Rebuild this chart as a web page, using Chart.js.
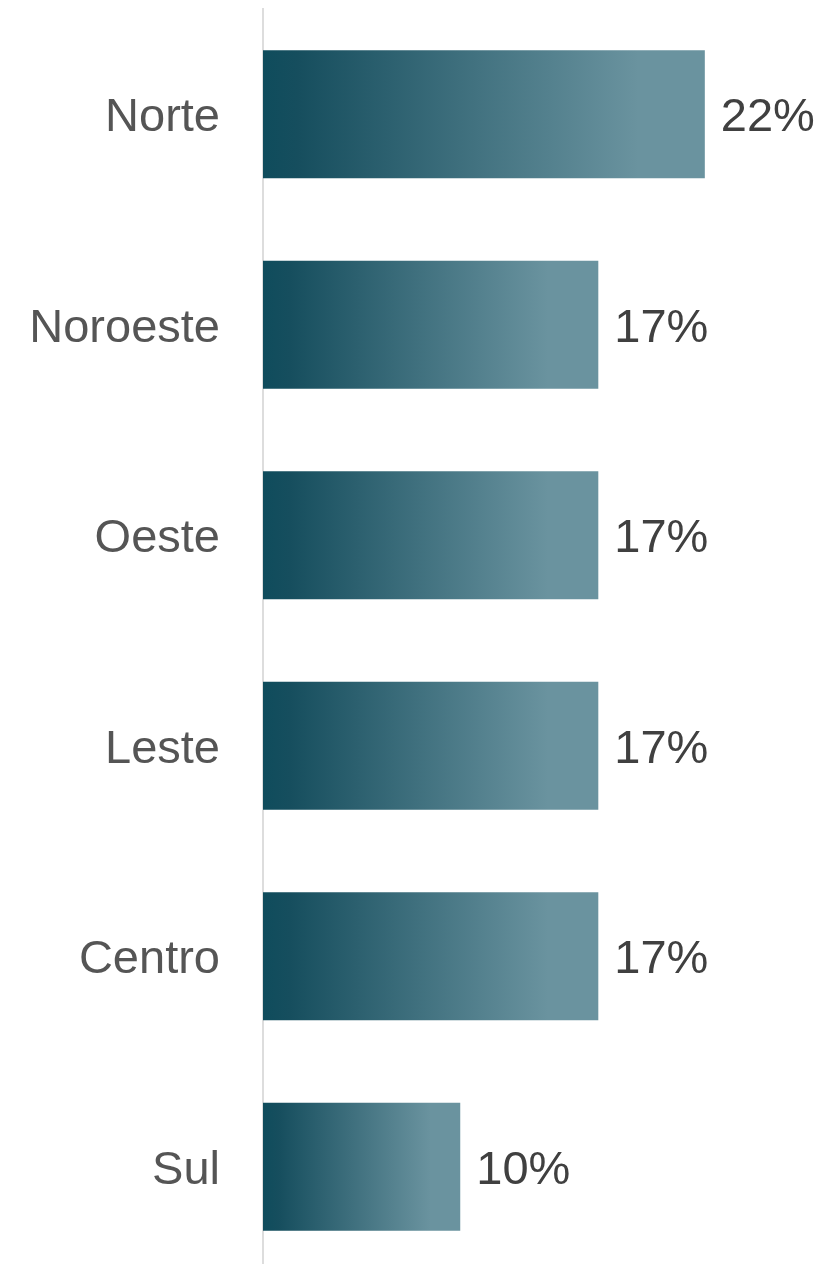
<!DOCTYPE html>
<html>
<head>
<meta charset="utf-8">
<script src="https://cdn.jsdelivr.net/npm/chart.js@4.4.1/dist/chart.umd.min.js"></script>
<style>
  html, body { margin: 0; padding: 0; background: #fff; overflow: hidden; }
  #wrap { width: 835px; height: 1272px; position: relative; }
</style>
</head>
<body>
<div id="wrap"><canvas id="bars"></canvas></div>
<script>
const regions = ['Norte', 'Noroeste', 'Oeste', 'Leste', 'Centro', 'Sul'];
const shares = [22.4, 17, 17, 17, 17, 10];
const shareLabels = ['22%', '17%', '17%', '17%', '17%', '10%'];

const FONT = "'Liberation Sans', Arial, sans-serif";

function barGradient(context) {
  const chart = context.chart;
  const area = chart.chartArea;
  if (!area || context.parsed == null) return '#3d6b78';
  const left = chart.scales.x.getPixelForValue(0);
  const right = chart.scales.x.getPixelForValue(context.parsed.x);
  const g = chart.ctx.createLinearGradient(left, 0, right, 0);
  g.addColorStop(0, '#0f4c5c');
  g.addColorStop(0.08, '#164e5e');
  g.addColorStop(0.85, '#6a939f');
  g.addColorStop(1, '#6a939f');
  return g;
}

// value labels right of each bar
const valueLabels = {
  id: 'valueLabels',
  afterDatasetsDraw(chart) {
    const ctx = chart.ctx;
    const meta = chart.getDatasetMeta(0);
    ctx.save();
    ctx.font = `47px ${FONT}`;
    ctx.fillStyle = '#404040';
    ctx.textAlign = 'left';
    ctx.textBaseline = 'middle';
    meta.data.forEach((bar, i) => {
      ctx.fillText(shareLabels[i], bar.x + 16, bar.y + 4);
    });
    ctx.restore();
  }
};

new Chart(document.getElementById('bars'), {
  type: 'bar',
  data: {
    labels: regions,
    datasets: [{
      data: shares,
      backgroundColor: barGradient,
      borderWidth: 0,
      barPercentage: 0.608,
      categoryPercentage: 1
    }]
  },
  plugins: [valueLabels],
  options: {
    indexAxis: 'y',
    responsive: true,
    maintainAspectRatio: false,
    animation: false,
    layout: { padding: { top: 9, right: 0, bottom: 0, left: 0 } },
    plugins: {
      legend: { display: false },
      tooltip: { enabled: false }
    },
    scales: {
      x: {
        min: 0,
        max: 29,
        display: false,
        grid: { display: false }
      },
      y: {
        afterFit(scale) {
          scale.width = 263;
          scale.paddingTop = 0;
          scale.paddingBottom = 0;
        },
        grid: { display: false, drawTicks: false },
        border: { display: true, color: '#dddddd', width: 2 },
        ticks: {
          padding: 43,
          labelOffset: 4,
          color: '#555555',
          font: { family: FONT, size: 47 }
        }
      }
    }
  }
});
</script>
</body>
</html>
